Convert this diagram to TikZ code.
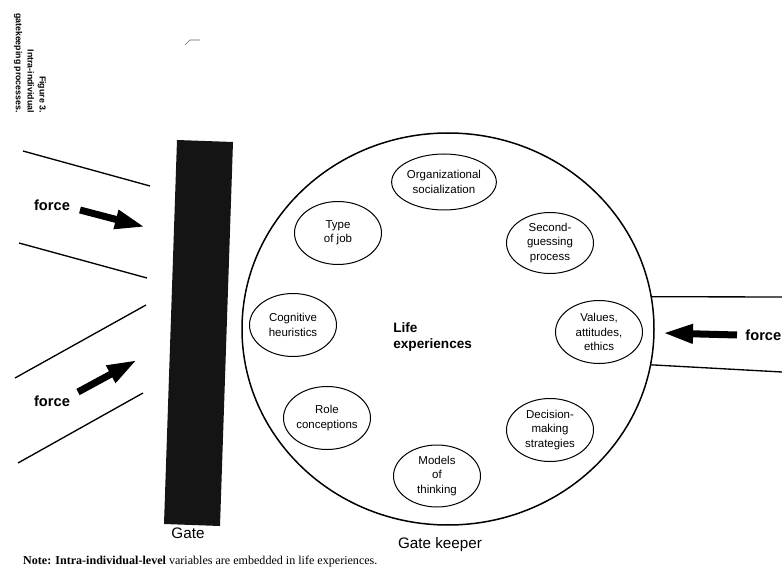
\documentclass[tikz,border=0pt]{standalone}
\usepackage{fontspec}
\setmainfont{Liberation Sans}
\newfontfamily\notefont{Liberation Serif}
\usetikzlibrary{arrows.meta,shapes.geometric}

\begin{document}
\begin{tikzpicture}[
        factor/.style={ellipse, draw, line width=0.03cm, minimum width=2.61cm, minimum height=1.89cm, inner sep=0cm, align=center, font=\fontsize{9.8}{12.3}\selectfont},
        forcearrow/.style={line width=0.21cm, -{Triangle[length=0.9cm,width=0.54cm]}},
        forcelabel/.style={font=\fontsize{12.5}{14}\selectfont\bfseries},
        gatelabel/.style={font=\fontsize{13}{15}\selectfont},
        wall/.style={line width=0.04cm}]
    \useasboundingbox (0,0) rectangle (23.46,17.22);

    % Caption on its side
    \node [rotate=-90, anchor=east, align=right, inner sep=0cm, font=\fontsize{7.5}{10.2}\selectfont\bfseries] (caption) at (0.90,13.83) {Figure 3.\\Intra-individual\\gatekeeping processes.};%

    % Stray pen mark
    \draw [line width=0.02cm, black!60] (5.55,15.87) -- (5.70,16.02) -- (6.00,16.02);%

    % Drawing the gate
    \fill [black!92] (5.31,13.02) -- (6.99,12.96) -- (6.60,1.44) -- (4.92,1.50) -- cycle;%
    \node [gatelabel] (gatetext) at (5.64,1.23) {Gate};%

    % Drawing the lines in front of the gate
    \draw [wall] (0.69,12.69) -- (4.50,11.64);%
    \draw [wall] (0.57,9.93) -- (4.41,8.88);%
    \draw [wall] (0.45,5.88) -- (4.38,8.07);%
    \draw [wall] (0.54,3.33) -- (4.29,5.43);%

    % Upper force on the gate
    \node [forcelabel] (forceup) at (1.56,11.07) {force};%
    \coordinate (tailup) at (2.40,10.92);%
    \coordinate (tipup) at (4.35,10.41);%
    \draw [forcearrow] (tailup) -- (tipup);%

    % Lower force on the gate
    \node [forcelabel] (forcelow) at (1.56,5.19) {force};%
    \coordinate (taillow) at (2.34,5.46);%
    \coordinate (tiplow) at (4.11,6.42);%
    \draw [forcearrow] (taillow) -- (tiplow);%

    % Drawing the gate keeper
    \node [ellipse, draw, line width=0.045cm, minimum width=12.36cm, minimum height=11.76cm, inner sep=0cm] (keeper) at (13.44,7.35) {};%
    \node [gatelabel] (keepertext) at (13.20,0.87) {Gate keeper};%
    \node [align=left, font=\fontsize{11.6}{13}\selectfont\bfseries] (life) at (12.98,7.11) {Life\\experiences};%

    % Marking the factors inside the gate keeper
    \node [factor, minimum height=1.68cm] (orgsoc) at (13.32,11.76) {Organizational\\socialization};%
    \node [factor] (jobtype) at (10.14,10.23) {Type\\of job};%
    \node [factor, minimum height=1.83cm] (secondguess) at (16.50,9.93) {Second-\\guessing\\process};%
    \node [factor] (heuristics) at (8.79,7.47) {Cognitive\\heuristics};%
    \node [factor] (values) at (17.97,7.26) {Values,\\attitudes,\\ethics};%
    \node [factor] (roles) at (9.81,4.68) {Role\\conceptions};%
    \node [factor] (decision) at (16.50,4.32) {Decision-\\making\\strategies};%
    \node [factor, minimum height=1.86cm] (models) at (13.11,2.94) {Models\\of\\thinking};%

    % Drawing the lines on the right
    \coordinate (walltop) at (23.46,8.31);%
    \coordinate (wallbot) at (23.46,6.06);%
    \draw [wall] (keeper.9.8) -- (walltop);%
    \draw [wall] (keeper.-10.9) -- (wallbot);%

    % Force on the gate keeper
    \node [forcelabel, anchor=west] (forceright) at (22.24,7.17) {force};%
    \coordinate (tailright) at (22.11,7.17);%
    \coordinate (tipright) at (19.89,7.23);%
    \draw [forcearrow] (tailright) -- (tipright);%

    % Note below
    \node [anchor=west, inner sep=0cm, font=\notefont\fontsize{10.3}{12}\selectfont] (note) at (0.69,0.36) {\textbf{Note: Intra-individual-level} variables are embedded in life experiences.};%
\end{tikzpicture}
\end{document}
